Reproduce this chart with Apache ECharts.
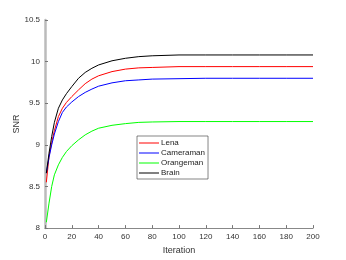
<!DOCTYPE html>
<html>
<head>
<meta charset="utf-8">
<script src="https://cdn.jsdelivr.net/npm/echarts@6/dist/echarts.min.js"></script>
<style>html,body{margin:0;padding:0;background:#fff}#c{width:346px;height:260px}</style>
</head>
<body>
<div id="c"></div>
<script>
var iterations = [1, 3, 5, 7, 10, 13, 16, 20, 25, 30, 35, 40, 50, 60, 70, 80, 100, 120, 140, 160, 180, 200];
var lena       = [8.55, 8.86, 9.03, 9.17, 9.34, 9.44, 9.51, 9.58, 9.66, 9.735, 9.79, 9.83, 9.88, 9.91, 9.925, 9.93, 9.94, 9.94, 9.94, 9.94, 9.94, 9.94];
var cameraman  = [8.66, 8.85, 9.00, 9.13, 9.28, 9.39, 9.455, 9.515, 9.58, 9.63, 9.67, 9.705, 9.745, 9.77, 9.78, 9.79, 9.795, 9.80, 9.80, 9.80, 9.80, 9.80];
var orangeman  = [8.07, 8.30, 8.50, 8.64, 8.76, 8.85, 8.92, 8.99, 9.06, 9.12, 9.165, 9.20, 9.235, 9.255, 9.27, 9.275, 9.28, 9.28, 9.28, 9.28, 9.28, 9.28];
var brain      = [8.66, 8.90, 9.10, 9.27, 9.44, 9.54, 9.615, 9.70, 9.80, 9.87, 9.92, 9.96, 10.01, 10.04, 10.06, 10.07, 10.08, 10.08, 10.08, 10.08, 10.08, 10.08];
var seriesNames = ['Lena', 'Cameraman', 'Orangeman', 'Brain'];
var seriesColors = ['#ff0000', '#0000ff', '#00ff00', '#000000'];
var seriesValues = [lena, cameraman, orangeman, brain];

function pairs(vals) {
  return iterations.map(function (it, i) { return [it, vals[i]]; });
}

var chart = echarts.init(document.getElementById('c'), null, {renderer: 'canvas'});
var font = 'Liberation Sans, Arial, sans-serif';
chart.setOption({
  animation: false,
  backgroundColor: '#fff',
  grid: {left: 45, right: 33, top: 20, bottom: 29},
  legend: {
    orient: 'vertical',
    left: 137, top: 136,
    data: seriesNames.map(function (n) { return {name: n, icon: 'rect'}; }),
    itemWidth: 20, itemHeight: 1, itemGap: 0,
    padding: [2, 3, 1, 2],
    borderColor: '#333', borderWidth: 0.6,
    backgroundColor: '#fff',
    textStyle: {fontFamily: font, fontSize: 8, lineHeight: 10, color: '#222', padding: [0, 0, 0, -3]}
  },
  xAxis: {
    type: 'value', min: 0, max: 200, interval: 20,
    name: 'Iteration', nameLocation: 'middle', nameGap: 13,
    nameTextStyle: {fontFamily: font, fontSize: 9, color: '#333'},
    axisLine: {show: true, lineStyle: {color: '#888', width: 1}},
    axisTick: {show: true, inside: true, length: 3, lineStyle: {color: '#777'}},
    axisLabel: {fontFamily: font, fontSize: 8, color: '#333', margin: 5},
    splitLine: {show: false}
  },
  yAxis: {
    type: 'value', min: 8, max: 10.5, interval: 0.5,
    name: 'SNR', nameLocation: 'middle', nameGap: 24, nameRotate: 90,
    nameMoveOverlap: false,
    nameTextStyle: {fontFamily: font, fontSize: 9, color: '#333'},
    axisLine: {show: true, lineStyle: {color: '#bbb', width: 2.5}},
    axisTick: {show: true, inside: true, length: 3, lineStyle: {color: '#777'}},
    axisLabel: {fontFamily: font, fontSize: 8, color: '#333', margin: 5},
    splitLine: {show: false}
  },
  series: seriesNames.map(function (n, k) {
    return {
      name: n, type: 'line', data: pairs(seriesValues[k]),
      smooth: false, symbol: 'none', showSymbol: false,
      lineStyle: {color: seriesColors[k], width: 1},
      itemStyle: {color: seriesColors[k]}
    };
  })
});
</script>
</body>
</html>
